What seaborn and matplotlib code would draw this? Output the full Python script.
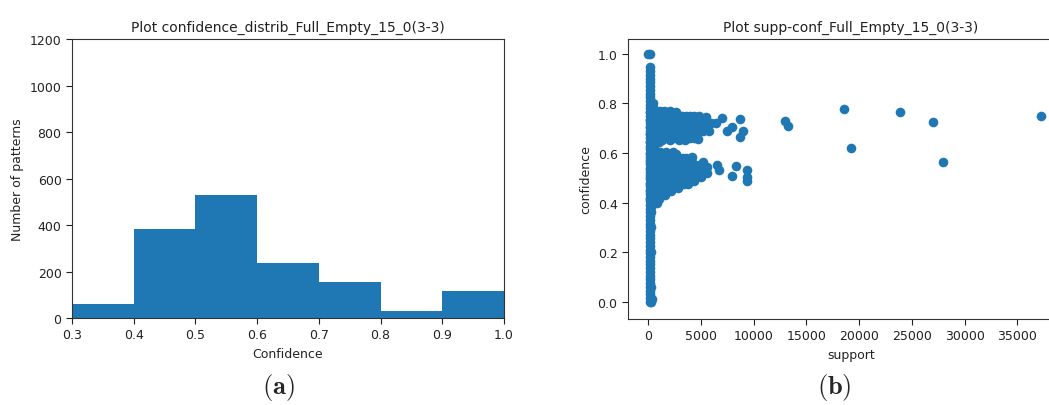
import matplotlib
matplotlib.use("Agg")
import pandas as pd
import matplotlib.pyplot as plt
import seaborn as sns

# histogram (a)
conf_bins = [0.3, 0.4, 0.5, 0.6, 0.7, 0.8, 0.9, 1.0]
bin_counts = [60, 381, 530, 238, 156, 28, 116]

# scatter (b): vertical column of low-support patterns
column_conf = [0.0, 0.015, 0.03, 0.045, 0.06, 0.075, 0.09, 0.105, 0.12, 0.135,
               0.15, 0.165, 0.18, 0.195, 0.21, 0.225, 0.24, 0.255, 0.27, 0.285,
               0.30, 0.315, 0.33, 0.345, 0.36, 0.375, 0.39, 0.405, 0.42, 0.435,
               0.45, 0.465, 0.48, 0.495, 0.51, 0.525, 0.54, 0.555, 0.57, 0.585,
               0.60, 0.615, 0.63, 0.645, 0.66, 0.675, 0.69, 0.705, 0.72, 0.735,
               0.75, 0.765, 0.78, 0.795, 0.81, 0.825, 0.84, 0.855, 0.87, 0.885,
               0.90, 0.915, 0.93, 0.945, 1.0, 1.0]
column_support = [150] * (len(column_conf) - 1) + [0]
column_extra = [(300, 0.0), (350, 0.01), (300, 0.06), (250, 0.38), (300, 0.36),
                (500, 0.80), (500, 0.785), (600, 0.615), (600, 0.63),
                (200, 0.645), (600, 0.645), (1000, 0.645), (250, 0.3), (300, 0.2)]

# dense upper lobe: confidence -> supports
upper_rows = {
    0.77: [700, 1100, 1500, 2100],
    0.765: [200, 600, 1000, 1400, 1800, 2200, 2600],
    0.75: [400, 800, 1200, 1600, 2000, 2400, 2800, 3200, 3600, 4000, 4400, 4800],
    0.735: [200, 600, 1000, 1400, 1800, 2200, 2600, 3000, 3400, 3800, 4200, 4600, 5000],
    0.72: [400, 800, 1200, 1600, 2000, 2400, 2800, 3200, 3600, 4000, 4400, 4800, 5200,
           5600, 6000, 6400],
    0.705: [200, 600, 1000, 1400, 1800, 2200, 2600, 3000, 3400, 3800, 4200, 4600, 5000],
    0.69: [400, 800, 1200, 1600, 2000, 2400, 2800, 3200, 3600, 4000, 4400, 4800, 5200],
    0.675: [200, 600, 1000, 1400, 1800, 2200, 2600, 3000, 3400, 3800, 4200],
    0.66: [400, 800, 1200, 1600, 2000, 2400, 2800, 3200, 3600, 4000, 4400],
    0.652: [1300, 2100, 2900, 3500],
}

# dense lower lobe: confidence -> supports
lower_rows = {
    0.603: [1100, 1700, 2400],
    0.595: [200, 600, 1000, 1400, 1800, 2200, 2600],
    0.58: [400, 800, 1200, 1600, 2000, 2400, 2800, 3200, 3600],
    0.565: [200, 600, 1000, 1400, 1800, 2200, 2600, 3000, 3400, 3800, 4200],
    0.55: [400, 800, 1200, 1600, 2000, 2400, 2800, 3200, 3600, 4000, 4400, 4800, 5200],
    0.535: [200, 600, 1000, 1400, 1800, 2200, 2600, 3000, 3400, 3800, 4200, 4600],
    0.52: [400, 800, 1200, 1600, 2000, 2400, 2800, 3200, 3600, 4000, 4400, 4800, 5200, 5600],
    0.505: [200, 600, 1000, 1400, 1800, 2200, 2600, 3000, 3400, 3800, 4200, 4600, 5000],
    0.49: [400, 800, 1200, 1600, 2000, 2400, 2800, 3200, 3600, 4000],
    0.475: [200, 600, 1000, 1400, 1800, 2200, 2600, 3000, 3400, 3800],
    0.46: [400, 800, 1200, 1600, 2000, 2400, 2800],
    0.445: [200, 600, 1000, 1400, 1800, 2200],
    0.43: [400, 800, 1200, 1600],
    0.415: [200, 600, 1000],
    0.40: [400, 800],
}

# sparse high-support patterns
outliers = [
    (2400, 0.59), (4150, 0.582), (5190, 0.564), (6580, 0.55), (6740, 0.53),
    (7940, 0.506), (8320, 0.546), (9420, 0.53), (9360, 0.486), (9400, 0.505),
    (7000, 0.743), (8730, 0.736), (7460, 0.69), (7940, 0.705), (9010, 0.69),
    (8730, 0.665), (13000, 0.728), (13280, 0.708), (18530, 0.776), (19260, 0.62),
    (23910, 0.766), (27010, 0.724), (27960, 0.562), (37290, 0.75),
    (5500, 0.745), (5800, 0.69), (4700, 0.655), (5600, 0.545), (4400, 0.485),
]

support = list(column_support)
confidence = list(column_conf)
for s_val, c_val in column_extra + outliers:
    support.append(s_val)
    confidence.append(c_val)
for rows in (upper_rows, lower_rows):
    for c_val, s_list in rows.items():
        support += s_list
        confidence += [c_val] * len(s_list)
scatter_df = pd.DataFrame({"support": support, "confidence": confidence})

sns.set_style("ticks")
plt.rcParams["mathtext.fontset"] = "cm"
blue = "#1f77b4"
txt = "#222222"

fig = plt.figure(figsize=(10.49, 4.06), dpi=100)
ax1 = fig.add_axes([0.0686, 0.2143, 0.4118, 0.687])
ax2 = fig.add_axes([0.5987, 0.2118, 0.425, 0.6897])

mids = [(conf_bins[i] + conf_bins[i + 1]) / 2 for i in range(len(bin_counts))]
sns.histplot(x=mids, weights=bin_counts, bins=conf_bins, color=blue, alpha=1,
             linewidth=0, ax=ax1)
ax1.set_xlim(0.3, 1.0)
ax1.set_ylim(0, 1200)
ax1.set_xticks(conf_bins)
ax1.set_yticks([0, 200, 400, 600, 800, 1000, 1200])
ax1.set_xlabel("Confidence", fontsize=9, color=txt)
ax1.set_ylabel("Number of patterns", fontsize=9, color=txt)
ax1.set_title("Plot confidence_distrib_Full_Empty_15_0(3-3)", fontsize=10, color=txt)

sns.scatterplot(data=scatter_df, x="support", y="confidence", color=blue, s=48,
                linewidth=0, alpha=1, ax=ax2)
ax2.set_xlim(-1900, 40360)
ax2.set_ylim(-0.07, 1.06)
ax2.set_xticks([0, 5000, 10000, 15000, 20000, 25000, 30000, 35000])
ax2.set_yticks([0.0, 0.2, 0.4, 0.6, 0.8, 1.0])
ax2.set_xlabel("support", fontsize=9, color=txt)
ax2.set_ylabel("confidence", fontsize=9, color=txt)
ax2.set_title("Plot supp-conf_Full_Empty_15_0(3-3)", fontsize=10, color=txt)

for ax in (ax1, ax2):
    ax.tick_params(labelsize=9, colors=txt, length=4, width=0.8)
    for sp in ax.spines.values():
        sp.set_linewidth(0.8)
        sp.set_color("#333333")

fig.text(0.2655, 0.046, r"$\mathbf{(a)}$", fontsize=19, ha="center", va="center")
fig.text(0.7955, 0.046, r"$\mathbf{(b)}$", fontsize=19, ha="center", va="center")

fig.savefig("out.png", dpi=100)
